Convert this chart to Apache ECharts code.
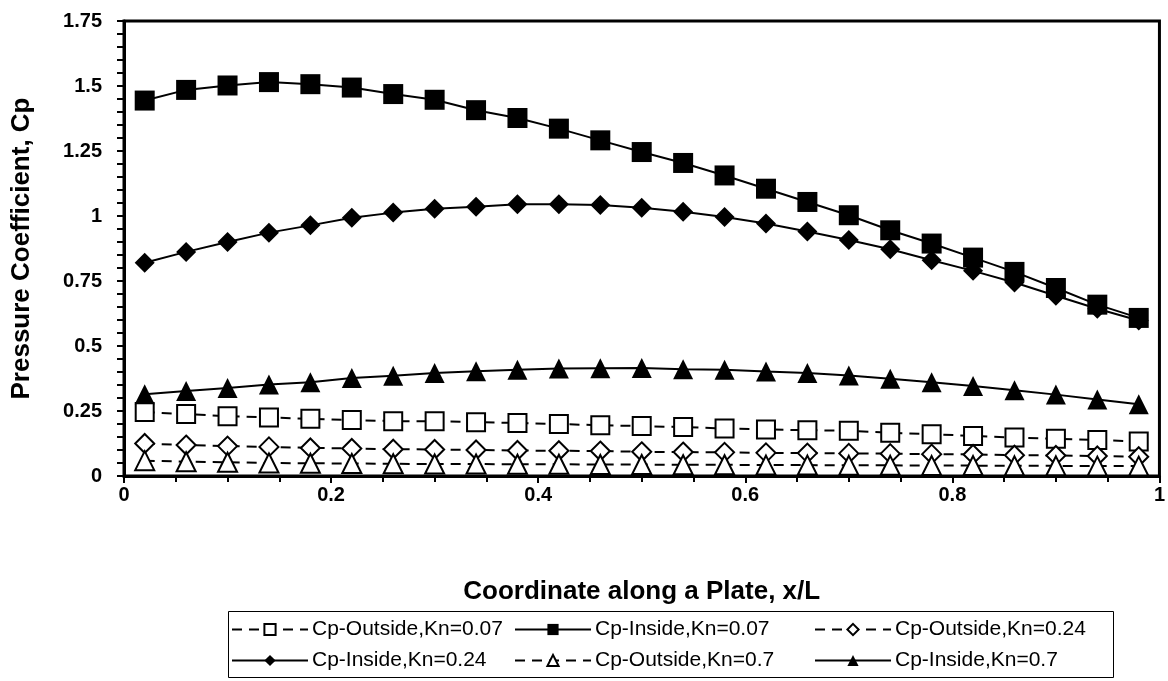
<!DOCTYPE html>
<html><head><meta charset="utf-8">
<script src="https://cdn.jsdelivr.net/npm/echarts@6/dist/echarts.min.js"></script>
<style>html,body{margin:0;padding:0;background:#fff}#c{width:1168px;height:681px}</style>
</head><body><div id="c"></div>
<script>
const xs = [0.02,0.06,0.10,0.14,0.18,0.22,0.26,0.30,0.34,0.38,0.42,0.46,0.50,0.54,0.58,0.62,0.66,0.70,0.74,0.78,0.82,0.86,0.90,0.94,0.98];
const outside007 = [0.246,0.238,0.230,0.225,0.220,0.215,0.211,0.211,0.207,0.204,0.200,0.195,0.192,0.188,0.183,0.179,0.176,0.174,0.166,0.161,0.154,0.148,0.143,0.138,0.133];
const inside007 = [1.444,1.485,1.502,1.515,1.507,1.494,1.469,1.447,1.407,1.377,1.336,1.291,1.246,1.204,1.156,1.105,1.054,1.003,0.945,0.894,0.840,0.785,0.723,0.659,0.608];
const outside024 = [0.125,0.119,0.115,0.112,0.108,0.106,0.103,0.102,0.100,0.098,0.097,0.096,0.093,0.092,0.091,0.089,0.088,0.087,0.086,0.084,0.083,0.080,0.079,0.077,0.074];
const inside024 = [0.820,0.862,0.900,0.936,0.964,0.993,1.013,1.028,1.036,1.045,1.045,1.042,1.032,1.016,0.996,0.971,0.940,0.908,0.872,0.830,0.789,0.744,0.693,0.643,0.598];
const outside07 = [0.059,0.055,0.053,0.050,0.049,0.048,0.047,0.046,0.046,0.045,0.045,0.044,0.044,0.043,0.043,0.042,0.042,0.041,0.041,0.040,0.040,0.039,0.039,0.038,0.038];
const inside07 = [0.314,0.327,0.338,0.352,0.361,0.377,0.386,0.396,0.403,0.409,0.413,0.414,0.415,0.411,0.409,0.402,0.396,0.387,0.374,0.361,0.346,0.330,0.313,0.294,0.276];
const seriesNames = ['Cp-Outside,Kn=0.07','Cp-Inside,Kn=0.07','Cp-Outside,Kn=0.24','Cp-Inside,Kn=0.24','Cp-Outside,Kn=0.7','Cp-Inside,Kn=0.7'];
const seriesData = [outside007, inside007, outside024, inside024, outside07, inside07];
const symbols = ['rect','rect','diamond','diamond','triangle','triangle'];
const filled = [false,true,false,true,false,true];
const dashed = [true,false,true,false,true,false];
const symSizes = [18,20,19,20,19,20];

const chart = echarts.init(document.getElementById('c'), null, {renderer:'canvas'});
const font = 'Arial, "Liberation Sans", sans-serif';
const series = seriesData.map((d,i)=>({
  name: seriesNames[i], type:'line',
  data: xs.map((x,j)=>[x,d[j]]),
  symbol: symbols[i], symbolSize: symSizes[i],
  lineStyle:{color:'#000', width:2, type: dashed[i]?[10,7]:'solid'},
  itemStyle:{color: filled[i]?'#000':'#fff', borderColor:'#000', borderWidth: filled[i]?0:2},
  emphasis:{disabled:true}, animation:false, z: 2+i
}));
const legPos = [[231,619],[514,619],[814,619],[231,650],[514,650],[814,650]];
const legends = seriesNames.map((n,i)=>({
  data:[n], left: legPos[i][0], top: legPos[i][1], itemWidth:76, itemHeight:14, itemGap:0,
  textStyle:{fontFamily:font, fontSize:21, color:'#000', padding:[0,0,0,-1]}, padding:0, selectedMode:false
}));
chart.setOption({
  animation:false,
  backgroundColor:'#fff',
  grid:{left:124, right:7, top:21, bottom:205, show:true, borderColor:'#000', borderWidth:3, backgroundColor:'transparent'},
  xAxis:{type:'value', min:0, max:1, interval:0.2,
    name:'Coordinate along a Plate, x/L', nameLocation:'middle', nameGap:103,
    nameTextStyle:{fontFamily:font, fontWeight:'bold', fontSize:26, color:'#000'},
    axisLine:{onZero:false, lineStyle:{color:'#000', width:3}},
    axisTick:{show:true, inside:false, length:7, lineStyle:{color:'#000', width:2}},
    minorTick:{show:true, splitNumber:4, length:6, lineStyle:{color:'#000', width:2}},
    axisLabel:{fontFamily:font, fontWeight:'bold', fontSize:20, color:'#000', margin:9},
    splitLine:{show:false}},
  yAxis:{type:'value', min:0, max:1.75, interval:0.25,
    name:'Pressure Coefficient, Cp', nameLocation:'middle', nameGap:89, nameRotate:90,
    nameTextStyle:{fontFamily:font, fontWeight:'bold', fontSize:26, color:'#000'},
    axisLine:{lineStyle:{color:'#000', width:3}},
    axisTick:{show:true, inside:false, length:7, lineStyle:{color:'#000', width:2}},
    minorTick:{show:true, splitNumber:5, length:7, lineStyle:{color:'#000', width:2}},
    axisLabel:{fontFamily:font, fontWeight:'bold', fontSize:20, color:'#000', margin:22},
    splitLine:{show:false}},
  legend: legends,
  graphic:[{type:'rect', shape:{x:228.5, y:611.5, width:885, height:66}, style:{fill:'none', stroke:'#000', lineWidth:1}, z:-1}],
  series: series
});
</script></body></html>
